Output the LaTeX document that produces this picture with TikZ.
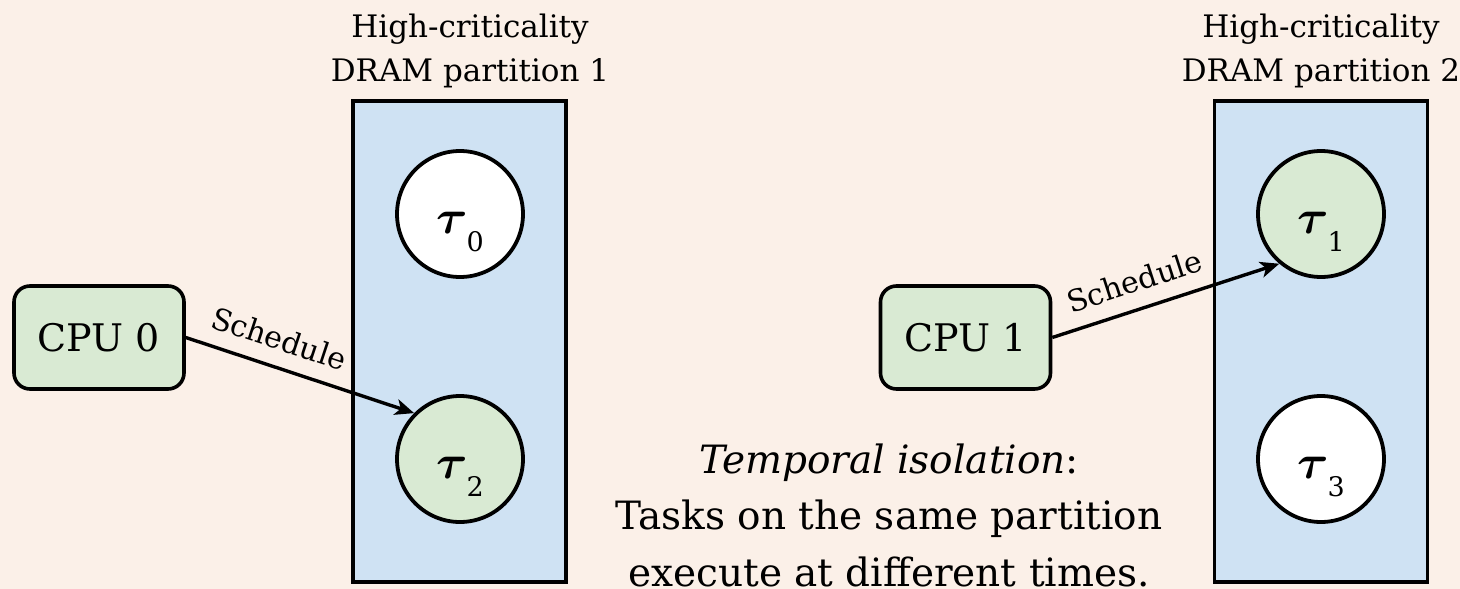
\RequirePackage{fix-cm}
\documentclass[tikz,border=0pt]{standalone}
\usepackage{amsmath}
\usepackage{fontspec}
\setmainfont{DejaVu Serif}
\usetikzlibrary{arrows.meta}

\definecolor{canvasbg}{RGB}{251,240,232}
\definecolor{partfill}{RGB}{207,226,243}
\definecolor{busyfill}{RGB}{217,234,211}

% bold task symbol with a lowered index
\newcommand{\tasklabel}[1]{{\fontsize{48}{48}\selectfont$\boldsymbol{\tau}$}\kern-1pt\raisebox{-18pt}{\fontsize{27}{27}\selectfont #1}}

\begin{document}
\begin{tikzpicture}[x=1pt,y=-1pt,
  partition/.style={draw=black, line width=3.6pt, fill=partfill, inner sep=0pt},
  cpubox/.style={draw=black, line width=3.6pt, fill=busyfill, rounded corners=16pt,
    minimum width=170pt, minimum height=103pt, inner sep=0pt,
    font=\fontsize{38}{38}\selectfont},
  taskcircle/.style={circle, draw=black, line width=3.8pt, minimum size=126pt,
    inner sep=0pt, text height=38pt, text depth=0pt},
  idle/.style={taskcircle, fill=white},
  running/.style={taskcircle, fill=busyfill},
  schedarrow/.style={line width=3.4pt, -{Stealth[length=19pt,width=16pt,inset=5pt]}},
  schedlabel/.style={sloped, above=15pt, inner sep=0pt, font=\fontsize{30}{30}\selectfont},
  heading/.style={align=center, font=\fontsize{31}{44}\selectfont},
  remark/.style={align=center, font=\fontsize{39}{56.5}\selectfont},
]
\fill[canvasbg] (0,0) rectangle (1460,589);
\useasboundingbox (0,0) rectangle (1460,589);

% DRAM partitions
\node[partition, minimum width=213pt, minimum height=481pt] (part1) at (459.5,341.5) {};
\node[partition, minimum width=213pt, minimum height=481pt] (part2) at (1321,341.5) {};

\node[heading] (head1) at (470,51) {High-criticality\\DRAM partition 1};
\node[heading] (head2) at (1321,51) {High-criticality\\DRAM partition 2};

% tasks
\node[idle]    (tau0) at (460,214)  {\tasklabel{0}};
\node[running] (tau2) at (460,459)  {\tasklabel{2}};
\node[running] (tau1) at (1321,214) {\tasklabel{1}};
\node[idle]    (tau3) at (1321,459) {\tasklabel{3}};

% cores
\node[cpubox] (cpu0) at (99,337.5)   {CPU 0};
\node[cpubox] (cpu1) at (965.5,337.5) {CPU 1};

% scheduling decisions
\draw[schedarrow] (cpu0.east) -- node[schedlabel, pos=0.37] {Schedule} (tau2.135);
\draw[schedarrow] (cpu1.east) -- node[schedlabel, pos=0.40] {Schedule} (tau1.230);

% note
\node[remark] (note) at (889,515) {\textit{Temporal isolation}:\\Tasks on the same partition\\execute at different times.};
\end{tikzpicture}
\end{document}
